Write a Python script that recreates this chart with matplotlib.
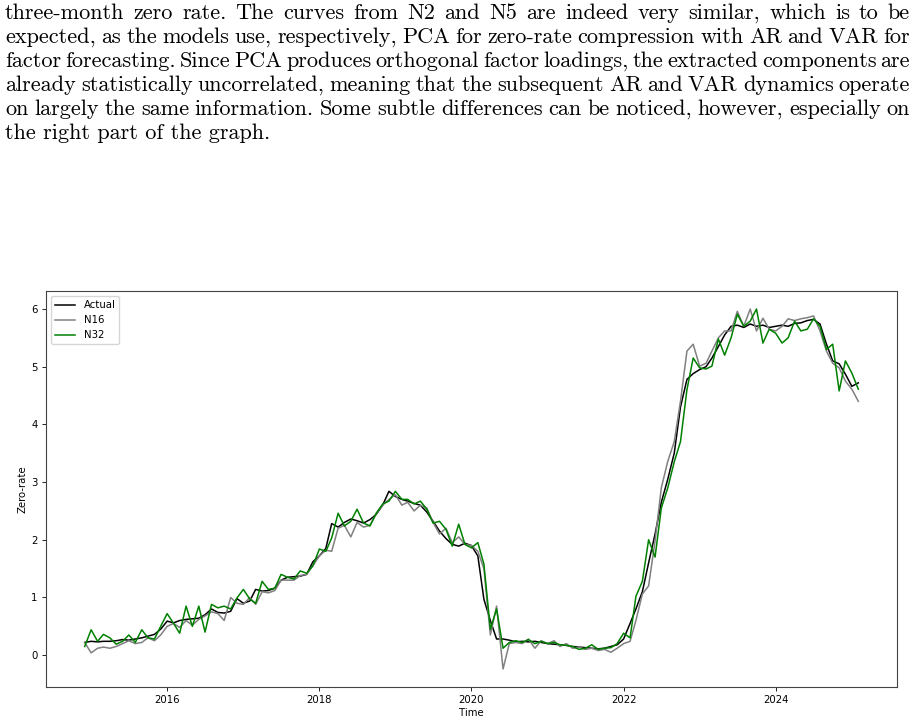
import matplotlib
matplotlib.use("Agg")
import matplotlib.pyplot as plt
import matplotlib.dates as mdates
import pandas as pd

# monthly points, Dec 2014 .. Feb 2025
dates = pd.date_range("2014-12-01", periods=123, freq="MS")

actual = [0.22,
          0.24, 0.23, 0.24, 0.24, 0.25, 0.27, 0.26, 0.28, 0.30, 0.33, 0.36, 0.45,
          0.59, 0.56, 0.60, 0.62, 0.63, 0.64, 0.70, 0.80, 0.74, 0.73, 0.76, 0.98,
          0.90, 0.94, 1.14, 1.11, 1.12, 1.16, 1.30, 1.35, 1.36, 1.37, 1.40, 1.62,
          1.72, 1.85, 2.28, 2.22, 2.30, 2.36, 2.33, 2.29, 2.35, 2.44, 2.60, 2.84,
          2.75, 2.70, 2.67, 2.63, 2.60, 2.48, 2.32, 2.15, 2.02, 1.92, 1.89, 1.94,
          1.90, 1.72, 0.97, 0.60, 0.28, 0.28, 0.26, 0.23, 0.24, 0.23, 0.24, 0.22,
          0.20, 0.19, 0.18, 0.17, 0.15, 0.14, 0.13, 0.12, 0.11, 0.12, 0.15, 0.18,
          0.28, 0.55, 0.80, 1.10, 1.60, 2.10, 2.65, 3.05, 3.50, 4.30, 4.78, 4.88,
          4.95, 5.00, 5.15, 5.35, 5.55, 5.70, 5.72, 5.68, 5.74, 5.70, 5.72, 5.68,
          5.70, 5.72, 5.70, 5.75, 5.76, 5.80, 5.82, 5.74, 5.39, 5.10, 5.05, 4.87,
          4.66, 4.72]

n16 = [0.22,
       0.04, 0.12, 0.14, 0.12, 0.15, 0.20, 0.25, 0.20, 0.22, 0.30, 0.25, 0.35,
       0.50, 0.55, 0.48, 0.60, 0.52, 0.62, 0.68, 0.75, 0.72, 0.60, 1.00, 0.90,
       0.88, 1.00, 0.88, 1.10, 1.08, 1.12, 1.30, 1.30, 1.30, 1.38, 1.40, 1.55,
       1.72, 1.82, 1.80, 2.20, 2.25, 2.05, 2.30, 2.22, 2.25, 2.45, 2.60, 2.70,
       2.78, 2.60, 2.65, 2.50, 2.60, 2.55, 2.30, 2.10, 2.20, 1.95, 2.05, 1.92,
       1.90, 1.80, 1.50, 0.35, 0.85, -0.24, 0.20, 0.22, 0.20, 0.28, 0.12, 0.25,
       0.20, 0.25, 0.15, 0.20, 0.12, 0.14, 0.10, 0.12, 0.08, 0.10, 0.05, 0.12,
       0.20, 0.24, 0.60, 1.06, 1.20, 1.98, 2.90, 3.36, 3.70, 4.40, 5.27, 5.39,
       5.01, 5.06, 5.27, 5.50, 5.62, 5.62, 5.96, 5.70, 6.00, 5.62, 5.84, 5.65,
       5.62, 5.70, 5.83, 5.80, 5.83, 5.85, 5.88, 5.62, 5.27, 5.06, 4.98, 4.75,
       4.61, 4.40]

n32 = [0.15,
       0.44, 0.24, 0.36, 0.30, 0.19, 0.24, 0.35, 0.22, 0.44, 0.30, 0.28, 0.50,
       0.72, 0.55, 0.38, 0.85, 0.50, 0.85, 0.40, 0.88, 0.82, 0.85, 0.80, 0.99,
       1.14, 0.97, 0.90, 1.28, 1.14, 1.16, 1.40, 1.35, 1.32, 1.46, 1.42, 1.55,
       1.84, 1.80, 2.03, 2.46, 2.24, 2.32, 2.53, 2.29, 2.24, 2.46, 2.62, 2.67,
       2.84, 2.70, 2.70, 2.62, 2.67, 2.53, 2.29, 2.32, 2.18, 1.89, 2.27, 1.92,
       1.86, 1.95, 1.58, 0.45, 0.80, 0.12, 0.22, 0.25, 0.22, 0.27, 0.20, 0.24,
       0.20, 0.22, 0.18, 0.17, 0.15, 0.10, 0.12, 0.18, 0.10, 0.12, 0.13, 0.20,
       0.38, 0.30, 1.02, 1.28, 2.00, 1.70, 2.55, 2.90, 3.35, 3.70, 4.60, 5.15,
       4.98, 4.96, 5.01, 5.48, 5.20, 5.50, 5.91, 5.70, 5.79, 6.00, 5.41, 5.65,
       5.58, 5.41, 5.50, 5.79, 5.62, 5.65, 5.83, 5.70, 5.30, 5.39, 4.58, 5.10,
       4.89, 4.61]

paragraph = [
    "three-month zero rate.  The curves from N2 and N5 are indeed very similar, which is to be",
    "expected, as the models use, respectively, PCA for zero-rate compression with AR and VAR for",
    "factor forecasting. Since PCA produces orthogonal factor loadings, the extracted components are",
    "already statistically uncorrelated, meaning that the subsequent AR and VAR dynamics operate",
    "on largely the same information. Some subtle differences can be noticed, however, especially on",
    "the right part of the graph.",
]

W, H = 915, 724
fig = plt.figure(figsize=(W / 100, H / 100), dpi=100)

# text block above the chart, justified like the LaTeX page
renderer = fig.canvas.get_renderer()
left_px, right_px = 5, 910
first_base, line_step = 19, 24.0
for i, line in enumerate(paragraph):
    y = 1 - (first_base + i * line_step) / H
    if i == len(paragraph) - 1:
        fig.text(left_px / W, y, line, fontsize=16, family="cmr10", va="baseline")
        continue
    words = line.split(" ")
    arts = [fig.text(0, y, w, fontsize=16, family="cmr10", va="baseline") for w in words if w]
    widths = [a.get_window_extent(renderer).width for a in arts]
    gap = (right_px - left_px - sum(widths)) / (len(arts) - 1)
    x = left_px
    for a, w in zip(arts, widths):
        a.set_x(x / W)
        x += w + gap

ax = fig.add_axes([46 / W, 37 / H, 851 / W, 396 / H])
ax.plot(dates, actual, color="black", lw=1.1, label="Actual")
ax.plot(dates, n16, color="gray", lw=1.1, label="N16")
ax.plot(dates, n32, color="green", lw=1.1, label="N32")

ax.xaxis.set_major_locator(mdates.YearLocator(2))
ax.xaxis.set_major_formatter(mdates.DateFormatter("%Y"))
ax.set_yticks([0, 1, 2, 3, 4, 5, 6])
ax.tick_params(labelsize=7.3, width=0.6, length=2.6)
ax.set_xlabel("Time", fontsize=7.3, labelpad=2)
ax.set_ylabel("Zero-rate", fontsize=7.3, labelpad=2.5)
for s in ax.spines.values():
    s.set_linewidth(0.8)
    s.set_color("#444444")
ax.legend(loc="upper left", fontsize=7.3, handlelength=2.0)

fig.savefig("out.png", dpi=100)
